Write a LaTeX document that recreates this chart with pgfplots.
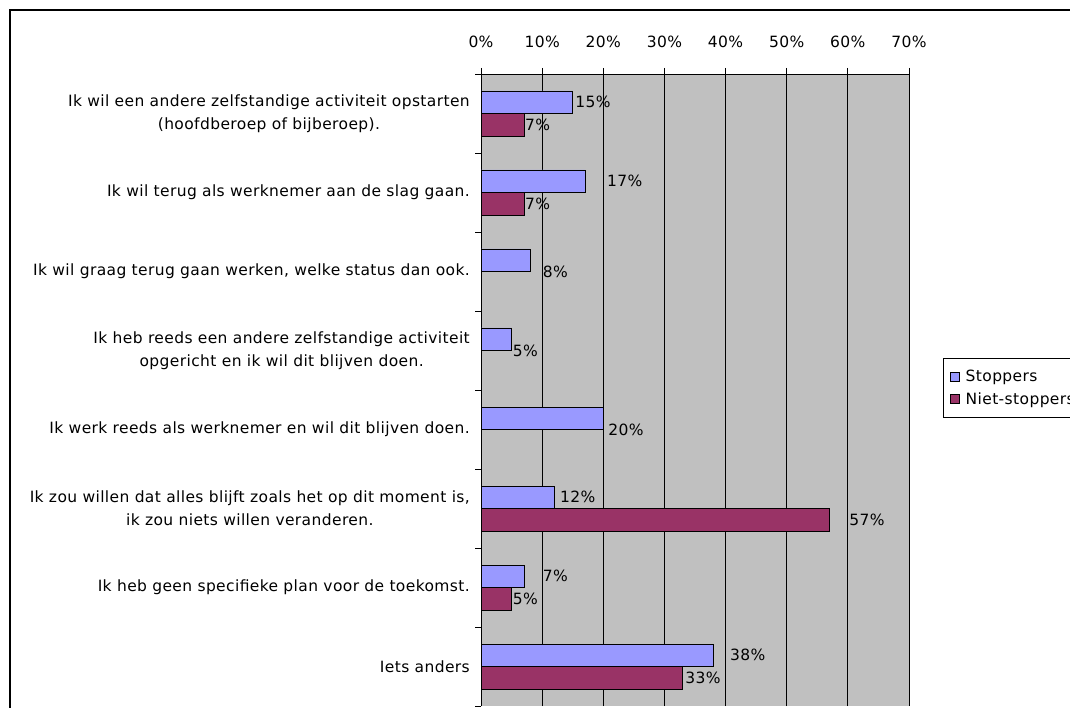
\documentclass[border=0pt]{standalone}
\usepackage{fontspec}
\setmainfont[LetterSpace=2.5]{DejaVu Sans}
\usepackage{pgfplots}
\pgfplotsset{compat=1.18}
\definecolor{stopc}{HTML}{9999FF}
\definecolor{nietc}{HTML}{993366}
\definecolor{plotbg}{HTML}{C0C0C0}
\begin{document}
\begin{tikzpicture}[x=1pt,y=1pt,font=\fontsize{15.5pt}{23pt}\selectfont]
\begin{axis}[
  at={(481pt,1pt)}, anchor=south west,
  scale only axis, width=428pt, height=632pt,
  xmin=0, xmax=70, ymin=0.5, ymax=8.5,
  axis x line*=top, axis y line*=left,
  axis line style={black, line width=0.8pt, -},
  axis background/.style={fill=plotbg},
  xtick={0,10,...,70},
  xticklabels={0\%,10\%,20\%,30\%,40\%,50\%,60\%,70\%},
  xmajorgrids, major grid style={black, line width=0.8pt},
  tick align=outside, major tick length=6pt, minor tick length=6pt,
  tick style={black, line width=0.8pt},
  ytick={1,...,8},
  every major y tick/.style={draw=none},
  minor ytick={0.5,1.5,...,8.5},
  yticklabels={
    {Iets anders},
    {Ik heb geen specifieke plan voor de toekomst.},
    {Ik zou willen dat alles blijft zoals het op dit moment is,\\ik zou niets willen veranderen.},
    {Ik werk reeds als werknemer en wil dit blijven doen.},
    {Ik heb reeds een andere zelfstandige activiteit\\opgericht en ik wil dit blijven doen.},
    {Ik wil graag terug gaan werken, welke status dan ook.},
    {Ik wil terug als werknemer aan de slag gaan.},
    {Ik wil een andere zelfstandige activiteit opstarten\\(hoofdberoep of bijberoep).}},
  yticklabel style={align=center, inner sep=0pt, anchor=east, xshift=-5pt},
  xticklabel style={inner sep=0pt, yshift=20pt},
  xbar, bar width=22.5pt,
  legend style={at={(axis description cs:1.0794,0.5506)}, anchor=north west,
    draw=black, fill=white, line width=0.8pt, inner xsep=7pt, inner ysep=11pt,
    row sep=7pt, font=\fontsize{15.5pt}{16pt}\selectfont,
    nodes={inner sep=1pt}},
  legend cell align=left,
  legend image code/.code={\path[draw=none,fill=none] (0pt,0pt) -- (14pt,0pt);
    \draw[#1, line width=0.6pt] (0pt,-4.5pt) rectangle (9pt,4.5pt);},
]
\addplot[fill=stopc, draw=black, line width=0.6pt, bar shift=11.25pt]
  coordinates {(38,1) (7,2) (12,3) (20,4) (5,5) (8,6) (17,7) (15,8)};
\addlegendentry{Stoppers}
\addplot[fill=nietc, draw=black, line width=0.6pt, bar shift=-11.25pt]
  coordinates {(33,1) (5,2) (57,3) (7,7) (7,8)};
\addlegendentry{Niet-stoppers}
\begin{scope}[every node/.style={anchor=west, inner sep=0pt}]
\node at (axis cs:15.4,8.142) {15\%};
\node at (axis cs:7.2,7.858) {7\%};
\node at (axis cs:20.6,7.142) {17\%};
\node at (axis cs:7.2,6.858) {7\%};
\node at (axis cs:10.1,6.0) {8\%};
\node at (axis cs:5.2,5.0) {5\%};
\node at (axis cs:20.8,4.0) {20\%};
\node at (axis cs:12.9,3.142) {12\%};
\node at (axis cs:60.2,2.858) {57\%};
\node at (axis cs:10.1,2.142) {7\%};
\node at (axis cs:5.2,1.858) {5\%};
\node at (axis cs:40.7,1.142) {38\%};
\node at (axis cs:33.4,0.858) {33\%};
\end{scope}
\end{axis}
\draw[line width=1.5pt] (10pt,-5pt) -- (10pt,697pt) -- (1080pt,697pt);
\pgfresetboundingbox
\path[use as bounding box] (0pt,0pt) rectangle (1070pt,707pt);
\end{tikzpicture}
\end{document}
